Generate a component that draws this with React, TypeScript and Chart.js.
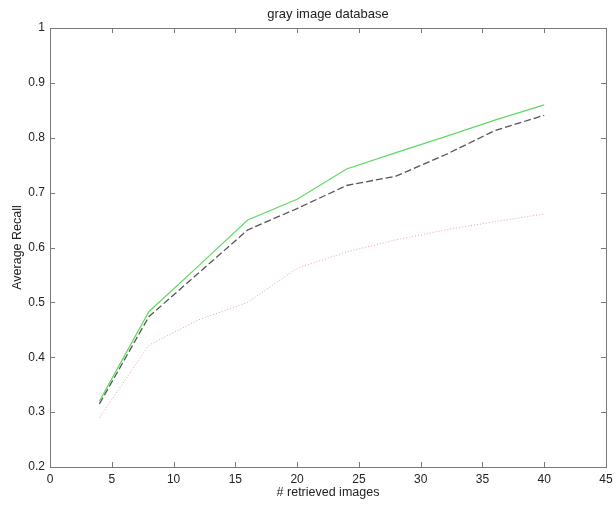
import React, { useEffect, useRef } from "react";
import { Chart, registerables } from "chart.js";

Chart.register(...registerables);

const retrieved = [4, 8, 12, 16, 20, 24, 28, 32, 36, 40];
const methodA = [0.32, 0.483, 0.566, 0.65, 0.688, 0.743, 0.773, 0.802, 0.832, 0.86];
const methodB = [0.315, 0.474, 0.553, 0.632, 0.671, 0.713, 0.73, 0.769, 0.813, 0.841];
const methodC = [0.29, 0.422, 0.468, 0.5, 0.562, 0.592, 0.614, 0.632, 0.647, 0.661];

const titleText = "gray image database";
const xTitle = "# retrieved images";
const yTitle = "Average Recall";

const FONT = "'Liberation Sans', Arial, sans-serif";

const framePlugin = {
  id: "frame",
  afterDraw(chart: any) {
    const { ctx, chartArea } = chart;
    const { left, right, top, bottom } = chartArea;
    const xs = chart.scales.x;
    const ys = chart.scales.y;
    ctx.save();
    ctx.strokeStyle = "#7a7a7a";
    ctx.lineWidth = 1;
    ctx.strokeRect(Math.round(left) + 0.5, Math.round(top) + 0.5, Math.round(right - left), Math.round(bottom - top));
    const tl = 5;
    ctx.beginPath();
    xs.ticks.forEach((t: any) => {
      const px = Math.round(xs.getPixelForValue(t.value)) + 0.5;
      ctx.moveTo(px, bottom);
      ctx.lineTo(px, bottom - tl);
      ctx.moveTo(px, top);
      ctx.lineTo(px, top + tl);
    });
    ys.ticks.forEach((t: any) => {
      const py = Math.round(ys.getPixelForValue(t.value)) + 0.5;
      ctx.moveTo(left, py);
      ctx.lineTo(left + tl, py);
      ctx.moveTo(right, py);
      ctx.lineTo(right - tl, py);
    });
    ctx.stroke();

    ctx.fillStyle = "#222";
    ctx.textAlign = "center";
    ctx.textBaseline = "middle";
    ctx.font = `13px ${FONT}`;
    ctx.fillText(titleText, (left + right) / 2, 14);
    ctx.font = `12.5px ${FONT}`;
    ctx.fillText(xTitle, (left + right) / 2, 493);
    ctx.save();
    ctx.translate(18, (top + bottom) / 2);
    ctx.rotate(-Math.PI / 2);
    ctx.fillText(yTitle, 0, 0);
    ctx.restore();
    ctx.restore();
  },
};

export default function App() {
  const ref = useRef<HTMLCanvasElement | null>(null);
  useEffect(() => {
    document.body.style.margin = "0";
    const canvas = ref.current;
    if (!canvas) return;
    const mk = (vals: number[]) => retrieved.map((x, i) => ({ x, y: vals[i] }));
    const chart = new Chart(canvas, {
      type: "line",
      data: {
        datasets: [
          {
            data: mk(methodA),
            borderColor: "#62d862",
            borderWidth: 1.2,
            pointRadius: 0,
            tension: 0,
            fill: false,
          },
          {
            data: mk(methodB),
            borderColor: "#555555",
            borderWidth: 1.3,
            borderDash: [7, 3],
            pointRadius: 0,
            tension: 0,
            fill: false,
          },
          {
            data: mk(methodC),
            borderColor: "#e8a0a8",
            borderWidth: 1,
            borderDash: [1, 2],
            pointRadius: 0,
            tension: 0,
            fill: false,
          },
        ],
      },
      options: {
        animation: false,
        responsive: false,
        maintainAspectRatio: false,
        layout: { padding: { top: 28, right: 8, left: 0, bottom: 0 } },
        plugins: {
          legend: { display: false },
          tooltip: { enabled: false },
          title: { display: false },
        },
        scales: {
          x: {
            type: "linear",
            min: 0,
            max: 45,
            border: { display: false },
            grid: { display: false, drawTicks: false },
            ticks: {
              stepSize: 5,
              padding: 5,
              color: "#222",
              font: { family: FONT, size: 12 },
              maxRotation: 0,
            },
            afterFit(scale: any) {
              scale.height = 39;
              scale.paddingRight = 0;
              scale.paddingLeft = 0;
            },
          },
          y: {
            type: "linear",
            min: 0.2,
            max: 1,
            border: { display: false },
            grid: { display: false, drawTicks: false },
            ticks: {
              stepSize: 0.1,
              padding: 5,
              color: "#222",
              font: { family: FONT, size: 12 },
              callback: (v: any) => {
                const n = Math.round(Number(v) * 10) / 10;
                return n === 1 ? "1" : n.toFixed(1);
              },
            },
            afterFit(scale: any) {
              scale.width = 50;
              scale.paddingTop = 0;
              scale.paddingBottom = 0;
            },
          },
        },
      },
      plugins: [framePlugin],
    } as any);
    return () => chart.destroy();
  }, []);
  return (
    <div style={{ position: "absolute", left: 0, top: 0, width: 614, height: 506, background: "#fff" }}>
      <canvas ref={ref} width={614} height={506} style={{ width: 614, height: 506 }} />
    </div>
  );
}
